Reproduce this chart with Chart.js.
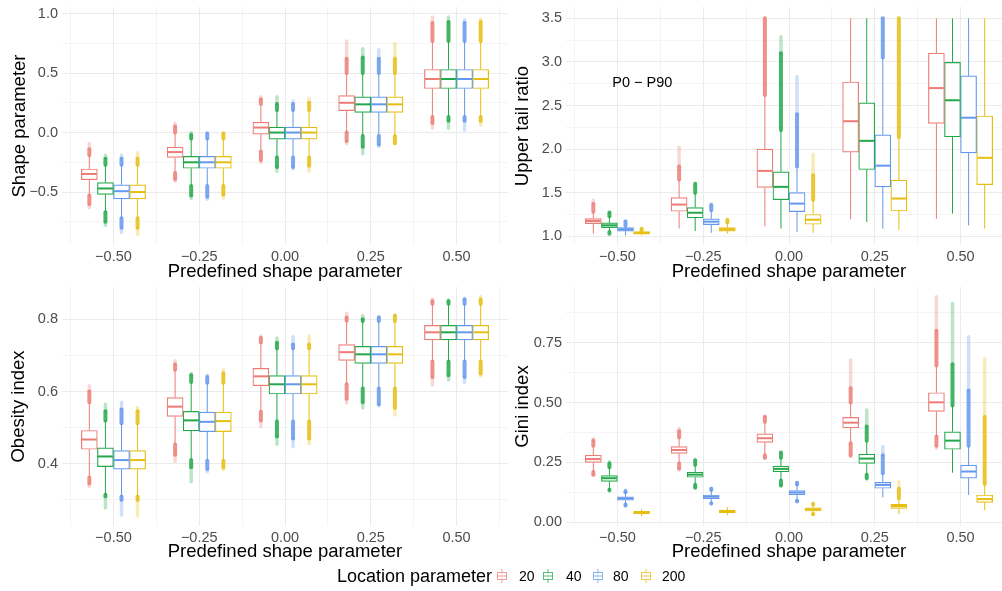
<!DOCTYPE html>
<html>
<head>
<meta charset="utf-8">
<script src="https://cdn.jsdelivr.net/npm/chart.js@4.4.0/dist/chart.umd.min.js"></script>
<style>
body { margin: 0; width: 1002px; height: 591px; overflow: hidden; background: #fff; position: relative;
       font-family: 'Liberation Sans', Arial, sans-serif; }
.panel { position: absolute; }
.panel canvas { display: block; }
.lg { position: absolute; white-space: nowrap; color: #000; }
</style>
</head>
<body>
<div class="panel" style="left:0;top:0"><canvas id="cShape" width="508" height="290"></canvas></div>
<div class="panel" style="left:500px;top:0"><canvas id="cTail" width="512" height="290"></canvas></div>
<div class="panel" style="left:0;top:280px"><canvas id="cObes" width="508" height="290"></canvas></div>
<div class="panel" style="left:500px;top:280px"><canvas id="cGini" width="512" height="290"></canvas></div>
<div id="legend"></div>
<script>
// categories and series
const catLabels = ['\u22120.50', '\u22120.25', '0.00', '0.25', '0.50'];
const seriesNames = ['20', '40', '80', '200'];
const seriesColors = ['rgb(236,124,118)', 'rgb(34,168,74)', 'rgb(100,152,236)', 'rgb(230,190,16)'];

// rows = series (20, 40, 80, 200), columns = categories
// --- Shape parameter
const shapeQ1 = [[-0.396, -0.209, -0.014, 0.184, 0.37], [-0.52, -0.30, -0.056, 0.17, 0.37], [-0.557, -0.30, -0.056, 0.17, 0.37], [-0.557, -0.30, -0.056, 0.17, 0.37]];
const shapeMed = [[-0.348, -0.164, 0.042, 0.25, 0.45], [-0.47, -0.25, 0.0, 0.237, 0.45], [-0.493, -0.25, 0.0, 0.237, 0.45], [-0.50, -0.25, 0.0, 0.237, 0.45]];
const shapeQ3 = [[-0.306, -0.123, 0.086, 0.31, 0.53], [-0.42, -0.20, 0.045, 0.30, 0.53], [-0.44, -0.20, 0.045, 0.30, 0.53], [-0.44, -0.20, 0.045, 0.30, 0.53]];
const shapeLo = [[-0.53, -0.34, -0.16, 0.0, 0.13], [-0.67, -0.45, -0.21, -0.03, 0.13], [-0.72, -0.45, -0.21, -0.03, 0.13], [-0.72, -0.45, -0.21, -0.03, 0.13]];
const shapeHi = [[-0.19, 0.0, 0.24, 0.50, 0.77], [-0.27, -0.05, 0.19, 0.50, 0.77], [-0.27, -0.05, 0.19, 0.50, 0.77], [-0.27, -0.05, 0.19, 0.50, 0.77]];
const shapeHiD = [[-0.14, 0.05, 0.28, 0.62, 0.92], [-0.22, -0.02, 0.24, 0.63, 0.93], [-0.22, -0.01, 0.24, 0.62, 0.92], [-0.22, -0.01, 0.25, 0.62, 0.93]];
const shapeHiM = [[-0.09, 0.078, 0.30, 0.77, 0.97], [-0.19, 0.0, 0.30, 0.705, 0.97], [-0.19, 0.0, 0.265, 0.696, 0.947], [-0.17, 0.0, 0.287, 0.746, 0.955]];
const shapeLoD = [[-0.60, -0.39, -0.23, -0.07, 0.08], [-0.75, -0.53, -0.29, -0.12, 0.10], [-0.80, -0.54, -0.29, -0.10, 0.10], [-0.80, -0.52, -0.28, -0.09, 0.10]];
const shapeLoM = [[-0.63, -0.41, -0.25, -0.095, 0.036], [-0.78, -0.555, -0.326, -0.178, 0.036], [-0.84, -0.56, -0.306, -0.117, 0.022], [-0.855, -0.55, -0.326, -0.095, 0.064]];
const shapeTicks = [-0.5, 0, 0.5, 1.0];
const shapeTickLabels = ['\u22120.5', '0.0', '0.5', '1.0'];
const shapeMinor = [-0.75, -0.25, 0.25, 0.75];

// --- Upper tail ratio
const tailQ1 = [[1.145, 1.287, 1.56, 1.965, 2.294], [1.10, 1.21, 1.42, 1.766, 2.14], [1.06, 1.134, 1.283, 1.567, 1.957], [1.023, 1.06, 1.138, 1.29, 1.593]];
const tailMed = [[1.176, 1.364, 1.75, 2.32, 2.70], [1.126, 1.27, 1.567, 2.095, 2.56], [1.08, 1.168, 1.375, 1.81, 2.36], [1.038, 1.08, 1.19, 1.433, 1.90]];
const tailQ3 = [[1.203, 1.444, 2.0, 2.77, 3.10], [1.153, 1.33, 1.74, 2.53, 2.995], [1.10, 1.20, 1.50, 2.164, 2.84], [1.054, 1.10, 1.25, 1.643, 2.38]];
const tailLo = [[1.03, 1.09, 1.115, 1.195, 1.20], [1.05, 1.06, 1.09, 1.165, 1.26], [1.01, 1.04, 1.05, 1.088, 1.126], [1.008, 1.03, 1.04, 1.07, 1.088]];
const tailHi = [[1.28, 1.65, 2.62, 3.5, 3.5], [1.23, 1.50, 2.22, 3.5, 3.5], [1.12, 1.30, 1.80, 3.05, 3.5], [1.07, 1.16, 1.42, 2.14, 3.5]];
const tailHiD = [[1.37, 1.80, 3.5, 3.5, 3.5], [1.27, 1.60, 3.1, 3.5, 3.5], [1.17, 1.36, 2.4, 3.5, 3.5], [1.085, 1.19, 1.70, 3.5, 3.5]];
const tailHiM = [[1.41, 2.02, 3.5, 3.5, 3.5], [1.28, 1.61, 3.29, 3.5, 3.5], [1.176, 1.37, 2.83, 3.5, 3.5], [1.088, 1.19, 1.94, 3.5, 3.5]];
const tailLoD = [[1.03, 1.09, 1.115, 1.195, 1.20], [1.03, 1.06, 1.09, 1.165, 1.26], [1.01, 1.04, 1.05, 1.088, 1.126], [1.008, 1.03, 1.04, 1.07, 1.088]];
const tailLoM = [[1.03, 1.09, 1.115, 1.195, 1.20], [1.03, 1.06, 1.09, 1.165, 1.26], [1.01, 1.04, 1.05, 1.088, 1.126], [1.008, 1.03, 1.04, 1.07, 1.088]];
const tailTicks = [1.0, 1.5, 2.0, 2.5, 3.0, 3.5];
const tailTickLabels = ['1.0', '1.5', '2.0', '2.5', '3.0', '3.5'];
const tailMinor = [1.25, 1.75, 2.25, 2.75, 3.25];
const tailNote = 'P0 \u2212 P90';

// --- Obesity index
const obesQ1 = [[0.44, 0.531, 0.616, 0.686, 0.743], [0.392, 0.491, 0.593, 0.678, 0.743], [0.385, 0.489, 0.593, 0.678, 0.743], [0.385, 0.489, 0.593, 0.678, 0.743]];
const obesMed = [[0.467, 0.558, 0.642, 0.709, 0.764], [0.42, 0.52, 0.62, 0.703, 0.764], [0.41, 0.516, 0.62, 0.703, 0.764], [0.41, 0.518, 0.62, 0.703, 0.764]];
const obesQ3 = [[0.492, 0.583, 0.664, 0.73, 0.783], [0.444, 0.545, 0.644, 0.725, 0.783], [0.436, 0.543, 0.644, 0.725, 0.783], [0.436, 0.543, 0.644, 0.725, 0.783]];
const obesLo = [[0.362, 0.453, 0.544, 0.62, 0.683], [0.314, 0.41, 0.517, 0.608, 0.683], [0.309, 0.408, 0.517, 0.608, 0.683], [0.309, 0.408, 0.517, 0.608, 0.683]];
const obesHi = [[0.57, 0.66, 0.736, 0.796, 0.843], [0.52, 0.626, 0.72, 0.795, 0.843], [0.512, 0.624, 0.72, 0.795, 0.843], [0.512, 0.624, 0.72, 0.795, 0.843]];
const obesHiD = [[0.60, 0.675, 0.748, 0.805, 0.85], [0.545, 0.645, 0.735, 0.80, 0.85], [0.55, 0.64, 0.73, 0.805, 0.855], [0.545, 0.65, 0.73, 0.81, 0.855]];
const obesHiM = [[0.616, 0.685, 0.754, 0.817, 0.856], [0.565, 0.65, 0.748, 0.81, 0.854], [0.57, 0.646, 0.752, 0.808, 0.858], [0.556, 0.66, 0.754, 0.812, 0.863]];
const obesLoD = [[0.345, 0.425, 0.52, 0.58, 0.64], [0.31, 0.39, 0.475, 0.57, 0.645], [0.30, 0.385, 0.47, 0.565, 0.64], [0.30, 0.39, 0.47, 0.555, 0.65]];
const obesLoM = [[0.337, 0.406, 0.503, 0.568, 0.618], [0.277, 0.35, 0.454, 0.554, 0.632], [0.258, 0.378, 0.447, 0.56, 0.625], [0.255, 0.383, 0.455, 0.535, 0.643]];
const obesTicks = [0.4, 0.6, 0.8];
const obesTickLabels = ['0.4', '0.6', '0.8'];
const obesMinor = [0.3, 0.5, 0.7];

// --- Gini index
const giniQ1 = [[0.25, 0.288, 0.334, 0.394, 0.463], [0.171, 0.188, 0.211, 0.246, 0.305], [0.092, 0.099, 0.115, 0.142, 0.184], [0.036, 0.04, 0.047, 0.058, 0.083]];
const giniMed = [[0.264, 0.302, 0.351, 0.416, 0.501], [0.184, 0.199, 0.223, 0.266, 0.341], [0.099, 0.107, 0.124, 0.156, 0.212], [0.04, 0.046, 0.053, 0.068, 0.097]];
const giniQ3 = [[0.28, 0.316, 0.369, 0.438, 0.541], [0.195, 0.209, 0.235, 0.285, 0.378], [0.106, 0.114, 0.132, 0.167, 0.239], [0.046, 0.051, 0.06, 0.075, 0.114]];
const giniLo = [[0.21, 0.245, 0.28, 0.33, 0.358], [0.136, 0.157, 0.175, 0.198, 0.207], [0.074, 0.08, 0.09, 0.104, 0.114], [0.026, 0.03, 0.035, 0.035, 0.051]];
const giniHi = [[0.32, 0.355, 0.42, 0.50, 0.655], [0.23, 0.24, 0.27, 0.34, 0.488], [0.125, 0.135, 0.158, 0.205, 0.32], [0.056, 0.063, 0.074, 0.10, 0.16]];
const giniHiD = [[0.34, 0.38, 0.44, 0.56, 0.80], [0.245, 0.258, 0.29, 0.40, 0.66], [0.13, 0.14, 0.165, 0.28, 0.55], [0.056, 0.063, 0.077, 0.14, 0.44]];
const giniHiM = [[0.35, 0.392, 0.444, 0.678, 0.942], [0.253, 0.263, 0.295, 0.469, 0.914], [0.135, 0.142, 0.166, 0.316, 0.775], [0.056, 0.063, 0.077, 0.17, 0.685]];
const giniLoD = [[0.20, 0.225, 0.27, 0.28, 0.32], [0.135, 0.145, 0.155, 0.185, 0.207], [0.07, 0.078, 0.088, 0.104, 0.114], [0.026, 0.03, 0.034, 0.035, 0.051]];
const giniLoM = [[0.195, 0.218, 0.267, 0.274, 0.309], [0.13, 0.142, 0.149, 0.18, 0.207], [0.068, 0.077, 0.086, 0.104, 0.114], [0.026, 0.03, 0.033, 0.035, 0.051]];
const giniTicks = [0, 0.25, 0.5, 0.75];
const giniTickLabels = ['0.00', '0.25', '0.50', '0.75'];
const giniMinor = [0.125, 0.375, 0.625, 0.875];

const FONT = "'Liberation Sans', Arial, sans-serif";
Chart.defaults.font.family = FONT;
const dodge = 0.75;          // ggplot dodge width
const boxPx = 16;
const majorGrid = '#EBEBEB', minorGrid = '#F4F4F4';

function band(ctx, y, x, from, to, w, alpha) {
    if (Math.abs(to - from) < 1e-9) return;
    ctx.globalAlpha = alpha;
    ctx.lineWidth = w;
    ctx.lineCap = 'round';
    ctx.beginPath();
    ctx.moveTo(x, y.getPixelForValue(from));
    ctx.lineTo(x, y.getPixelForValue(to));
    ctx.stroke();
}

// whiskers, outliers and medians drawn with the chart's own scales
const boxParts = {
    id: 'boxParts',
    beforeDatasetsDraw(chart) {
        const ctx = chart.ctx, y = chart.scales.y, a = chart.chartArea;
        ctx.save();
        ctx.beginPath(); ctx.rect(a.left, a.top, a.right - a.left, a.bottom - a.top); ctx.clip();
        chart.data.datasets.forEach((ds, s) => {
            const st = ds.stats;
            ctx.strokeStyle = ds.borderColor;
            chart.getDatasetMeta(s).data.forEach((bar, c) => {
                const x = bar.x;
                // outliers: dense part then sparse tail
                band(ctx, y, x, st.hi[c], st.hiD[c], 4, 0.85);
                band(ctx, y, x, st.hiD[c], st.hiM[c], 3.5, 0.3);
                band(ctx, y, x, st.lo[c], st.loD[c], 4, 0.85);
                band(ctx, y, x, st.loD[c], st.loM[c], 3.5, 0.3);
                // whiskers
                ctx.globalAlpha = 1; ctx.lineWidth = 1; ctx.lineCap = 'butt';
                ctx.beginPath();
                ctx.moveTo(x, y.getPixelForValue(st.lo[c])); ctx.lineTo(x, y.getPixelForValue(st.q1[c]));
                ctx.moveTo(x, y.getPixelForValue(st.q3[c])); ctx.lineTo(x, y.getPixelForValue(st.hi[c]));
                ctx.stroke();
            });
        });
        ctx.restore();
    },
    afterDatasetsDraw(chart, args, opts) {
        const ctx = chart.ctx, y = chart.scales.y;
        ctx.save();
        chart.data.datasets.forEach((ds, s) => {
            ctx.strokeStyle = ds.borderColor;
            ctx.lineWidth = 2;
            chart.getDatasetMeta(s).data.forEach((bar, c) => {
                const py = y.getPixelForValue(ds.stats.med[c]);
                ctx.beginPath();
                ctx.moveTo(bar.x - bar.width / 2 + 0.6, py);
                ctx.lineTo(bar.x + bar.width / 2 - 0.6, py);
                ctx.stroke();
            });
        });
        if (opts.note) {
            ctx.fillStyle = '#000';
            ctx.font = '14.5px ' + FONT;
            ctx.textAlign = 'center';
            ctx.textBaseline = 'middle';
            ctx.fillText(opts.note, chart.scales.x.getPixelForValue(opts.noteX), y.getPixelForValue(opts.noteY));
        }
        ctx.restore();
    }
};

function makePanel(id, p) {
    const major = p.ticks, minor = p.minor;
    const datasets = seriesNames.map((name, s) => ({
        label: name,
        data: catLabels.map((_, c) => ({ x: c + 1 + (s - 1.5) * dodge / 4, y: [p.q1[s][c], p.q3[s][c]] })),
        stats: { q1: p.q1[s], med: p.med[s], q3: p.q3[s], lo: p.lo[s], hi: p.hi[s],
                 hiD: p.hiD[s], hiM: p.hiM[s], loD: p.loD[s], loM: p.loM[s] },
        backgroundColor: '#fff',
        borderColor: seriesColors[s],
        borderWidth: 1.2,
        borderSkipped: false,
        barThickness: boxPx,
        grouped: false
    }));
    const xTickVals = [];
    for (let i = 0; i <= catLabels.length; i++) {
        xTickVals.push(i + 0.5);
        if (i < catLabels.length) xTickVals.push(i + 1);
    }
    return new Chart(document.getElementById(id), {
        type: 'bar',
        data: { datasets },
        plugins: [boxParts],
        options: {
            responsive: false,
            animation: false,
            devicePixelRatio: 1,
            layout: { padding: { top: 7, left: 0, right: 0, bottom: 0 } },
            plugins: {
                legend: { display: false },
                tooltip: { enabled: false },
                boxParts: { note: p.note || '', noteX: p.noteX, noteY: p.noteY }
            },
            scales: {
                x: {
                    type: 'linear',
                    min: 0.4, max: catLabels.length + 0.6,
                    offset: false,
                    afterBuildTicks: sc => { sc.ticks = xTickVals.map(v => ({ value: v })); },
                    afterFit: sc => { sc.height = p.xh; sc.paddingLeft = 0; sc.paddingRight = 0; },
                    grid: { offset: false, drawTicks: false, lineWidth: 1,
                            color: c => Number.isInteger(c.tick.value) ? majorGrid : minorGrid },
                    border: { display: false },
                    ticks: { autoSkip: false, maxRotation: 0, padding: 3, color: '#4D4D4D',
                             font: { size: 14.5 },
                             callback: v => Number.isInteger(v) ? catLabels[v - 1] : '' },
                    title: { display: true, text: 'Predefined shape parameter', color: '#000',
                             font: { size: 18.5 }, padding: { top: 0, bottom: 7 } }
                },
                y: {
                    type: 'linear',
                    min: p.min, max: p.max,
                    afterBuildTicks: sc => { sc.ticks = major.concat(minor).sort((a, b) => a - b).map(v => ({ value: v })); },
                    afterFit: sc => { sc.width = p.yw; sc.paddingTop = 0; sc.paddingBottom = 0; },
                    grid: { drawTicks: false, lineWidth: 1,
                            color: c => major.indexOf(c.tick.value) >= 0 ? majorGrid : minorGrid },
                    border: { display: false },
                    ticks: { autoSkip: false, padding: 4, color: '#4D4D4D', font: { size: 14.5 },
                             callback: v => { const i = major.indexOf(v); return i >= 0 ? p.tickLabels[i] : ''; } },
                    title: { display: true, text: p.title, color: '#000', font: { size: 18.5 },
                             padding: { top: p.tp, bottom: 0 } }
                }
            }
        }
    });
}

makePanel('cShape', { q1: shapeQ1, med: shapeMed, q3: shapeQ3, lo: shapeLo, hi: shapeHi, hiD: shapeHiD, hiM: shapeHiM,
    loD: shapeLoD, loM: shapeLoM, ticks: shapeTicks, tickLabels: shapeTickLabels, minor: shapeMinor,
    min: -0.945, max: 1.055, title: 'Shape parameter', yw: 62, tp: 9, xh: 45 });
makePanel('cTail', { q1: tailQ1, med: tailMed, q3: tailQ3, lo: tailLo, hi: tailHi, hiD: tailHiD, hiM: tailHiM,
    loD: tailLoD, loM: tailLoM, ticks: tailTicks, tickLabels: tailTickLabels, minor: tailMinor,
    min: 0.9, max: 3.63, title: 'Upper tail ratio', yw: 66, tp: 12, xh: 45,
    note: tailNote, noteX: 1.29, noteY: 2.76 });
makePanel('cObes', { q1: obesQ1, med: obesMed, q3: obesQ3, lo: obesLo, hi: obesHi, hiD: obesHiD, hiM: obesHiM,
    loD: obesLoD, loM: obesLoM, ticks: obesTicks, tickLabels: obesTickLabels, minor: obesMinor,
    min: 0.2274, max: 0.8895, title: 'Obesity index', yw: 62, tp: 8, xh: 44 });
makePanel('cGini', { q1: giniQ1, med: giniMed, q3: giniQ3, lo: giniLo, hi: giniHi, hiD: giniHiD, hiM: giniHiM,
    loD: giniLoD, loM: giniLoM, ticks: giniTicks, tickLabels: giniTickLabels, minor: giniMinor,
    min: -0.0155, max: 0.9825, title: 'Gini index', yw: 66, tp: 12, xh: 44 });

// legend
const lg = document.getElementById('legend');
const lgIconX = [496, 542, 592, 640];
const lgTextX = [519, 566, 613, 662];
let t = document.createElement('div');
t.className = 'lg';
t.style.cssText = 'left:337px;top:565px;font-size:18px;line-height:22px';
t.textContent = 'Location parameter';
lg.appendChild(t);
seriesNames.forEach((name, s) => {
    const cv = document.createElement('canvas');
    cv.width = 12; cv.height = 16;
    cv.className = 'lg';
    cv.style.left = lgIconX[s] + 'px';
    cv.style.top = '568px';
    const g = cv.getContext('2d');
    g.strokeStyle = seriesColors[s];
    g.globalAlpha = 0.75;
    g.lineWidth = 1;
    g.beginPath(); g.moveTo(6, 1); g.lineTo(6, 15); g.stroke();
    g.fillStyle = '#fff';
    g.fillRect(1.5, 4.5, 9, 7);
    g.strokeRect(1.5, 4.5, 9, 7);
    g.beginPath(); g.moveTo(1.5, 8); g.lineTo(10.5, 8); g.stroke();
    lg.appendChild(cv);
    const tx = document.createElement('div');
    tx.className = 'lg';
    tx.style.cssText = 'left:' + lgTextX[s] + 'px;top:567px;font-size:14px;line-height:18px';
    tx.textContent = name;
    lg.appendChild(tx);
});
</script>
</body>
</html>
